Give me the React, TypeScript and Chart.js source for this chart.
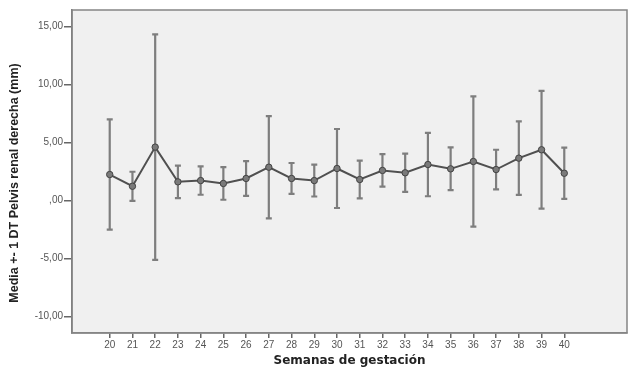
import React, { useEffect, useRef } from "react";
import { Chart, registerables } from "chart.js";

Chart.register(...registerables);

const weeks = [20, 21, 22, 23, 24, 25, 26, 27, 28, 29, 30, 31, 32, 33, 34, 35, 36, 37, 38, 39, 40];
const means = [2.24, 1.23, 4.6, 1.61, 1.72, 1.47, 1.9, 2.87, 1.9, 1.72, 2.76, 1.81, 2.59, 2.39, 3.1, 2.73, 3.36, 2.67, 3.65, 4.37, 2.35];
const sds = [4.74, 1.25, 9.7, 1.4, 1.22, 1.4, 1.5, 4.4, 1.33, 1.37, 3.4, 1.62, 1.4, 1.65, 2.73, 1.84, 5.6, 1.7, 3.17, 5.07, 2.2];
const yTicks = [-10, -5, 0, 5, 10, 15];
const yTitle = "Media +- 1 DT Pelvis renal derecha (mm)";
const xTitle = "Semanas de gestación";

const fmt = (v: number) => {
  if (v === 0) return ",00";
  return v.toFixed(2).replace(".", ",");
};

const bgPlugin = {
  id: "bgPlugin",
  beforeDraw(chart: any) {
    const { ctx, chartArea } = chart;
    ctx.save();
    ctx.fillStyle = "#f0f0f0";
    ctx.fillRect(chartArea.left, chartArea.top, chartArea.right - chartArea.left, chartArea.bottom - chartArea.top);
    ctx.restore();
  },
  afterDraw(chart: any) {
    const { ctx, chartArea } = chart;
    ctx.save();
    ctx.strokeStyle = "#858585";
    ctx.lineWidth = 1.5;
    ctx.strokeRect(chartArea.left, chartArea.top, chartArea.right - chartArea.left, chartArea.bottom - chartArea.top);
    ctx.translate(15, 183);
    ctx.rotate(-Math.PI / 2);
    ctx.fillStyle = "#222";
    ctx.font = "bold 12.5px 'Liberation Sans Narrow', 'Liberation Sans', sans-serif";
    ctx.textAlign = "center";
    ctx.textBaseline = "middle";
    ctx.fillText(yTitle, 0, 0);
    ctx.restore();
  },
};

const errorBarPlugin = {
  id: "errorBarPlugin",
  beforeDatasetsDraw(chart: any) {
    const { ctx } = chart;
    const xs = chart.scales.x;
    const ys = chart.scales.y;
    ctx.save();
    ctx.strokeStyle = "#7e7e7e";
    ctx.lineWidth = 2.2;
    weeks.forEach((w, i) => {
      const x = xs.getPixelForValue(w);
      const yt = ys.getPixelForValue(means[i] + sds[i]);
      const yb = ys.getPixelForValue(means[i] - sds[i]);
      ctx.beginPath();
      ctx.moveTo(x, yt);
      ctx.lineTo(x, yb);
      ctx.moveTo(x - 3, yt);
      ctx.lineTo(x + 3, yt);
      ctx.moveTo(x - 3, yb);
      ctx.lineTo(x + 3, yb);
      ctx.stroke();
    });
    ctx.restore();
  },
};

export default function App() {
  const ref = useRef<HTMLCanvasElement | null>(null);
  useEffect(() => {
    if (!ref.current) return;
    const chart = new Chart(ref.current, {
      type: "line",
      data: {
        datasets: [
          {
            data: weeks.map((w, i) => ({ x: w, y: means[i] })),
            borderColor: "#505050",
            borderWidth: 2,
            pointRadius: 3.2,
            pointBackgroundColor: "#7a7a7a",
            pointBorderColor: "#444",
            pointBorderWidth: 1,
            tension: 0,
          },
        ],
      },
      options: {
        animation: false,
        responsive: false,
        maintainAspectRatio: false,
        layout: { padding: { top: 10, right: 2, bottom: 2, left: 0 } },
        plugins: { legend: { display: false }, tooltip: { enabled: false } },
        scales: {
          x: {
            type: "linear",
            min: 18.34,
            max: 42.76,
            afterBuildTicks: (s: any) => {
              s.ticks = weeks.map((v) => ({ value: v }));
            },
            afterFit: (s: any) => {
              s.height = 36;
            },
            border: { display: true, color: "#888", width: 1.5 },
            grid: { drawOnChartArea: false, drawTicks: true, tickLength: 5, color: "#666", lineWidth: 1.5 },
            ticks: {
              autoSkip: false,
              maxRotation: 0,
              padding: 1,
              color: "#555",
              font: { family: "Liberation Sans", size: 10 },
              callback: (v: any) => String(v),
            },
            title: {
              display: true,
              text: xTitle,
              color: "#222",
              font: { family: "DejaVu Sans", size: 12, weight: "bold" },
              padding: { top: 0, bottom: 1 },
            },
          },
          y: {
            type: "linear",
            min: -11.4,
            max: 16.4,
            afterBuildTicks: (s: any) => {
              s.ticks = yTicks.map((v) => ({ value: v }));
            },
            afterFit: (s: any) => {
              s.width = 72;
            },
            border: { display: true, color: "#777", width: 1.5 },
            grid: { drawOnChartArea: false, drawTicks: true, tickLength: 8, color: "#666", lineWidth: 1.5 },
            ticks: {
              padding: 1,
              color: "#555",
              font: { family: "Liberation Sans", size: 10 },
              callback: (v: any) => fmt(Number(v)),
            },
            title: { display: false },
          },
        },
      },
      plugins: [bgPlugin, errorBarPlugin],
    } as any);
    return () => chart.destroy();
  }, []);
  return (
    <div style={{ position: "fixed", left: 0, top: 0, width: 632, height: 371, background: "#fff" }}>
      <canvas ref={ref} width={632} height={371} style={{ width: 632, height: 371, display: "block" }} />
    </div>
  );
}
